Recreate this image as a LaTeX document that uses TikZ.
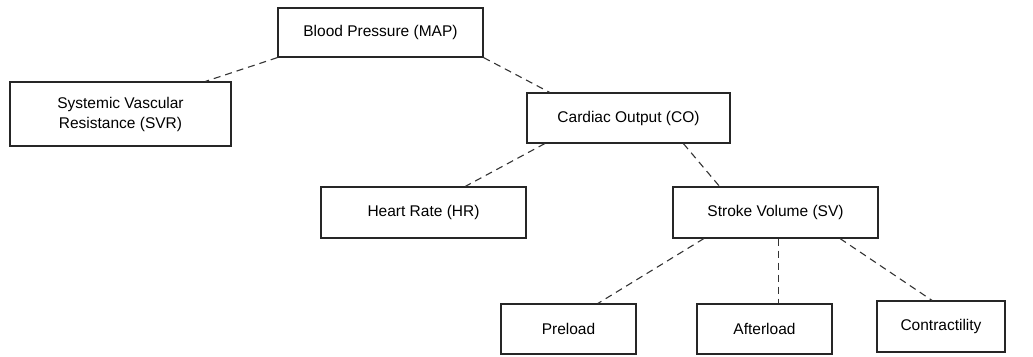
\documentclass[tikz,border=0pt]{standalone}
\usepackage{fontspec}
\setmainfont{Liberation Sans}
\begin{document}
\begin{tikzpicture}[x=1pt, y=-1pt,
    box/.style={draw=black!85, line width=1.2pt, fill=white, inner sep=0pt, align=center,
      font=\fontsize{15.5}{20}\selectfont},
    link/.style={draw=black!80, line width=1.1pt, dash pattern=on 7pt off 5pt}]
  \useasboundingbox (0,0) rectangle (1033,356);

  % the boxes
  \node[box, minimum width=205, minimum height=49] (bp)  at (380.5,32.5) {Blood Pressure (MAP)};
  \node[box, minimum width=221, minimum height=64] (svr) at (120.5,114)  {Systemic Vascular\\Resistance (SVR)};
  \node[box, minimum width=203, minimum height=50] (co)  at (628.5,118)  {Cardiac Output (CO)};
  \node[box, minimum width=205, minimum height=51] (hr)  at (423.5,212.5) {Heart Rate (HR)};
  \node[box, minimum width=205, minimum height=51] (sv)  at (775.5,212.5) {Stroke Volume (SV)};
  \node[box, minimum width=135, minimum height=50] (pre) at (568.5,329)  {Preload};
  \node[box, minimum width=135, minimum height=50] (aft) at (764.5,329)  {Afterload};
  \node[box, minimum width=128, minimum height=51] (con) at (941,326.5)  {Contractility};

  % the dashed links
  \draw[link] (bp.south west) -- (svr.21);
  \draw[link] (bp.south east) -- (co.162);
  \draw[link] (co.197) -- (hr.32);
  \draw[link] (co.-25) -- (sv.155);
  \draw[link] (sv.200) -- (pre.41);
  \draw[link] ([xshift=3pt]sv.south) -- ([xshift=3pt]sv.south |- aft.north);
  \draw[link] (sv.-22) -- (con.109);
\end{tikzpicture}
\end{document}
